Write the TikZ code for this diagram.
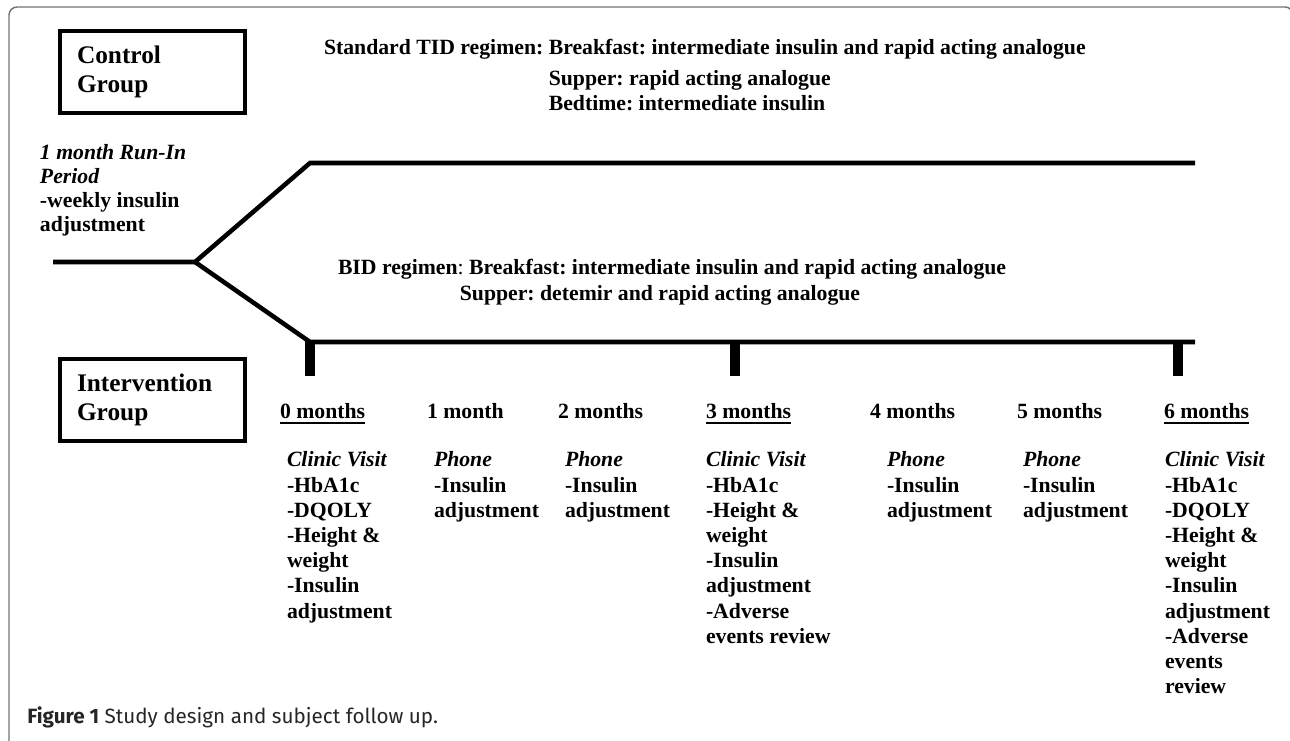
\documentclass[tikz,border=0pt]{standalone}
\usepackage{fontspec}
\setmainfont{Liberation Serif}
\newfontfamily\capfont{Fira Sans}
\definecolor{framegray}{gray}{0.45}
\definecolor{capgray}{gray}{0.15}
\frenchspacing
\newcommand\ulx[1]{\setbox0\hbox{#1}\rlap{\rule[-3.4pt]{\wd0}{1.5pt}}\box0}
\newcommand\colx[1]{\begin{tabular}[t]{@{}l@{}}#1\end{tabular}}
\begin{document}
\begin{tikzpicture}[x=0.75pt,y=-0.75pt,
  txt/.style={inner sep=0pt, outer sep=0pt, anchor=base west,
    font=\fontsize{16.3}{18.9}\selectfont\bfseries},
  grpbox/.style={draw, line width=3.4pt, inner xsep=12.75pt, inner ysep=0pt,
    text width=113.25pt, align=left, minimum height=61.5pt,
    font=\fontsize{19}{21.75}\selectfont\bfseries},
  arm/.style={line width=3.4pt, line join=miter},
  tickbar/.style={fill=black, draw=none, inner sep=0pt, minimum width=7.5pt,
    minimum height=26.25pt, anchor=north},
  framestyle/.style={draw=framegray, line width=1.1pt, rounded corners=6pt}]
\useasboundingbox (0,0) rectangle (1290,741);

% frame
\draw[framestyle] (9,745) -- (9,7) -- (1293,7) -- (1293,745);

% group boxes
\node[grpbox] (ctrl) at (152.5,72) {Control\\Group};
\node[grpbox] (intv) at (152.5,400) {Intervention\\Group};

% regimens
\node[txt] (tid) at (324,55) {\begin{tabular}[t]{@{}l@{}l@{}}Standard TID regimen:\kern0.25em & Breakfast: intermediate insulin and rapid acting analogue\\[4pt]
 & Supper: rapid acting analogue\\
 & Bedtime: intermediate insulin\end{tabular}};
\node[txt] (bid) at (338,275) {\begin{tabular}[t]{@{}l@{}l@{}}BID regimen{\mdseries:}\kern0.25em & Breakfast: intermediate insulin and rapid acting analogue\\
 & \hspace*{-7pt}Supper: detemir and rapid acting analogue\end{tabular}};

% run-in
\node[txt, font=\fontsize{16.3}{18}\selectfont\bfseries] (runin) at (40,160)
  {\colx{\textit{1 month Run-In}\\\textit{Period}\\-weekly insulin\\adjustment}};

% connectors
\coordinate (root) at (53,262);
\coordinate (fork) at (195,262);
\coordinate (upbend) at (310,163);
\coordinate (upend) at (1195,163);
\coordinate (lowbend) at (310,342);
\coordinate (lowend) at (1195,342);
\draw[arm] (root) -- (fork) -- (upbend) -- (upend);
\draw[arm] (fork) -- (lowbend) -- (lowend);

% ticks
\node[tickbar] (tick0) at (310,341) {};
\node[tickbar] (tick3) at (735,341) {};
\node[tickbar] (tick6) at (1178,341) {};

% headers
\node[txt] (h0) at (280,419) {\ulx{0 months}};
\node[txt] (h1) at (427,419) {1 month};
\node[txt] (h2) at (558,419) {2 months};
\node[txt] (h3) at (706,419) {\ulx{3 months}};
\node[txt] (h4) at (870,419) {4 months};
\node[txt] (h5) at (1017,419) {5 months};
\node[txt] (h6) at (1164,419) {\ulx{6 months}};

% bodies
\node[txt] (b0) at (287,467) {\colx{\textit{Clinic Visit}\\-HbA1c\\-DQOLY\\-Height \&\\weight\\-Insulin\\adjustment}};
\node[txt] (b1) at (434,467) {\colx{\textit{Phone}\\-Insulin\\adjustment}};
\node[txt] (b2) at (565,467) {\colx{\textit{Phone}\\-Insulin\\adjustment}};
\node[txt] (b3) at (706,467) {\colx{\textit{Clinic Visit}\\-HbA1c\\-Height \&\\weight\\-Insulin\\adjustment\\-Adverse\\events review}};
\node[txt] (b4) at (887,467) {\colx{\textit{Phone}\\-Insulin\\adjustment}};
\node[txt] (b5) at (1023,467) {\colx{\textit{Phone}\\-Insulin\\adjustment}};
\node[txt] (b6) at (1165,467) {\colx{\textit{Clinic Visit}\\-HbA1c\\-DQOLY\\-Height \&\\weight\\-Insulin\\adjustment\\-Adverse\\events\\review}};

% caption
\node[anchor=base west, inner sep=0pt] (cap) at (27,723)
  {\capfont\fontsize{15.5}{18}\selectfont\color{capgray}\textbf{Figure 1} Study design and subject follow up.};
\end{tikzpicture}
\end{document}
